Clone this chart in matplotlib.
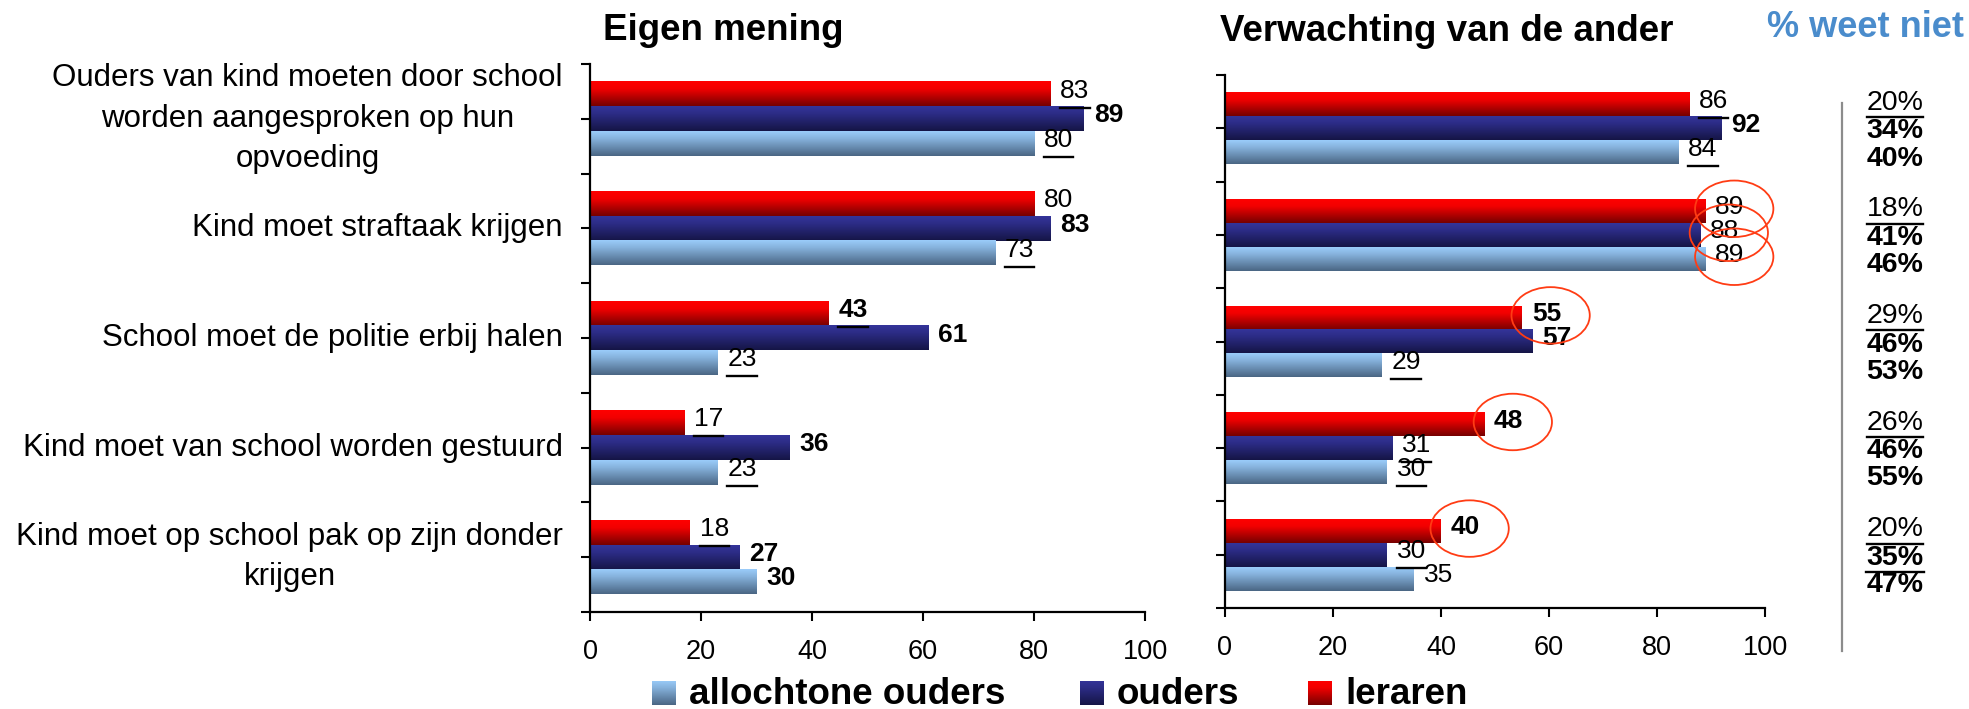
import numpy as np
import matplotlib
matplotlib.use("Agg")
import matplotlib.pyplot as plt
import matplotlib.colors as mcolors
from matplotlib.patches import Ellipse
from matplotlib.lines import Line2D
from matplotlib.transforms import blended_transform_factory

plt.rcParams['font.family'] = ['Liberation Sans', 'DejaVu Sans']

# ---------------- data ----------------
categories = [
    "Ouders van kind moeten door school\nworden aangesproken op hun\nopvoeding",
    "Kind moet straftaak krijgen",
    "School moet de politie erbij halen",
    "Kind moet van school worden gestuurd",
    "Kind moet op school pak op zijn donder\nkrijgen",
]
series = ["allochtone ouders", "ouders", "leraren"]

eigen_allochtoon = [80, 73, 23, 23, 30]
eigen_ouders = [89, 83, 61, 36, 27]
eigen_leraren = [83, 80, 43, 17, 18]

verw_allochtoon = [84, 89, 29, 30, 35]
verw_ouders = [92, 88, 57, 31, 30]
verw_leraren = [86, 89, 55, 48, 40]

# label styles: n = normal, u = underlined, b = bold, bu = bold + underlined
eigen_allochtoon_style = ["u", "u", "u", "u", "b"]
eigen_ouders_style = ["b", "b", "b", "b", "b"]
eigen_leraren_style = ["u", "n", "bu", "u", "u"]
verw_allochtoon_style = ["u", "n", "u", "u", "n"]
verw_ouders_style = ["b", "n", "b", "u", "u"]
verw_leraren_style = ["u", "n", "b", "b", "b"]

# circled labels in "Verwachting van de ander"
verw_allochtoon_circle = [False, True, False, False, False]
verw_ouders_circle = [False, True, False, False, False]
verw_leraren_circle = [False, True, True, True, True]

# % weet niet
weetniet_leraren = [20, 18, 29, 26, 20]
weetniet_ouders = [34, 41, 46, 46, 35]
weetniet_allochtoon = [40, 46, 53, 55, 47]
weetniet_leraren_style = ["u", "u", "u", "u", "u"]
weetniet_ouders_style = ["b", "b", "b", "b", "bu"]
weetniet_allochtoon_style = ["b", "b", "b", "b", "b"]

xticks = [0, 20, 40, 60, 80, 100]

# ---------------- styling ----------------
grad_colors = {
    "allochtone ouders": ("#9accfa", "#86b2dc", "#4a6684"),
    "ouders": ("#34349a", "#2c2c86", "#151546"),
    "leraren": ("#ff0000", "#f20000", "#760000"),
}
offsets = {"leraren": 0.225, "ouders": 0.0, "allochtone ouders": -0.225}
pct_offsets = {"leraren": 0.24, "ouders": -0.03, "allochtone ouders": -0.285}
bar_h = 0.225


def grad_img(top, mid, bottom, n=64):
    c0 = np.array(mcolors.to_rgb(top))
    cm = np.array(mcolors.to_rgb(mid))
    c1 = np.array(mcolors.to_rgb(bottom))
    t = np.linspace(0, 1, n)
    out = np.empty((n, 3))
    for k, tt in enumerate(t):
        if tt < 0.3:
            f = tt / 0.3
            out[k] = c0 * (1 - f) + cm * f
        else:
            f = (tt - 0.3) / 0.7
            out[k] = cm * (1 - f) + c1 * f
    return out[:, None, :]


W, H = 1969, 709
fig = plt.figure(figsize=(W / 100, H / 100), dpi=100)

ax1 = fig.add_axes([590 / W, 1 - 612 / H, 555 / W, 548 / H])
ax2 = fig.add_axes([1225 / W, 1 - 608 / H, 540 / W, 533 / H])

pos = np.arange(len(categories))[::-1].astype(float)

underline_texts = []  # (text, gap in px below bbox bottom)


def draw_panel(ax, data, styles, circles=None):
    for name in ["leraren", "ouders", "allochtone ouders"]:
        vals = data[name]
        bars = ax.barh(pos + offsets[name], vals, height=bar_h, color="none",
                       edgecolor="none", zorder=2)
        img = grad_img(*grad_colors[name])
        for p in bars.patches:
            x0, y0, w, h = p.get_x(), p.get_y(), p.get_width(), p.get_height()
            ax.imshow(img, extent=(x0, x0 + w, y0, y0 + h), origin="upper",
                      aspect="auto", interpolation="bilinear", zorder=2)
        for i, v in enumerate(vals):
            st = styles[name][i]
            t = ax.annotate(str(v), xy=(v, pos[i] + offsets[name]), xytext=(7, 2.5),
                            textcoords="offset points", ha="left", va="center",
                            fontsize=19, fontweight="bold" if "b" in st else "normal",
                            zorder=5, annotation_clip=False)
            if "u" in st:
                underline_texts.append((t, 5.0))
            if circles is not None and circles[name][i]:
                e = Ellipse((v + 5.3, pos[i] + offsets[name] + 0.02), 14.5, 0.53,
                            fill=False, edgecolor="#ff3c14", lw=1.3, zorder=6,
                            clip_on=False)
                ax.add_patch(e)
    ax.set_xlim(0, 100)
    ax.set_ylim(-0.5, 4.5)
    ax.set_xticks(xticks)
    ax.set_xticklabels([str(x) for x in xticks])
    for s in ["top", "right"]:
        ax.spines[s].set_visible(False)
    for s in ["left", "bottom"]:
        ax.spines[s].set_linewidth(1.6)
    ax.tick_params(axis="x", which="major", length=6.5, width=1.5,
                   labelsize=19.5, pad=13, direction="out")
    ax.set_yticks(pos)
    ax.set_yticks(np.arange(-0.5, 5.0, 1.0), minor=True)
    ax.tick_params(axis="y", which="both", length=6.5, width=1.5,
                   direction="out")


draw_panel(ax1,
           {"leraren": eigen_leraren, "ouders": eigen_ouders,
            "allochtone ouders": eigen_allochtoon},
           {"leraren": eigen_leraren_style, "ouders": eigen_ouders_style,
            "allochtone ouders": eigen_allochtoon_style})
draw_panel(ax2,
           {"leraren": verw_leraren, "ouders": verw_ouders,
            "allochtone ouders": verw_allochtoon},
           {"leraren": verw_leraren_style, "ouders": verw_ouders_style,
            "allochtone ouders": verw_allochtoon_style},
           circles={"leraren": verw_leraren_circle, "ouders": verw_ouders_circle,
                    "allochtone ouders": verw_allochtoon_circle})

ax1.set_yticklabels(categories, fontsize=22.5)
ax1.tick_params(axis="y", which="major", pad=13)
for lab in ax1.get_yticklabels():
    lab.set_multialignment("center")
    lab.set_linespacing(1.45)
    lab.set_verticalalignment("center")
ax2.set_yticklabels([])

# titles
fig.text(603 / W, 1 - 40 / H, "Eigen mening", fontsize=26.5, fontweight="bold",
         ha="left", va="baseline")
fig.text(1220 / W, 1 - 41 / H, "Verwachting van de ander", fontsize=26.5,
         fontweight="bold", ha="left", va="baseline")
fig.text(1767 / W, 1 - 37 / H, "% weet niet", fontsize=26, fontweight="bold",
         color="#4a8ccc", ha="left", va="baseline")

# % weet niet column
tr = blended_transform_factory(fig.transFigure, ax2.transData)
for name, vals, sts in [("leraren", weetniet_leraren, weetniet_leraren_style),
                        ("ouders", weetniet_ouders, weetniet_ouders_style),
                        ("allochtone ouders", weetniet_allochtoon, weetniet_allochtoon_style)]:
    for i, v in enumerate(vals):
        t = fig.text(1895 / W, pos[i] + pct_offsets[name], f"{v}%", transform=tr,
                     fontsize=20.5, fontweight="bold" if "b" in sts[i] else "normal",
                     ha="center", va="center")
        if "u" in sts[i]:
            underline_texts.append((t, 1.5))

# gray separator line
fig.add_artist(Line2D([1842 / W, 1842 / W], [1 - 103 / H, 1 - 651 / H],
                      transform=fig.transFigure, color="#8c8c8c", lw=1.6))

# legend
legend_x = {"allochtone ouders": 652, "ouders": 1080, "leraren": 1308}
for name in series:
    x = legend_x[name]
    lax = fig.add_axes([x / W, 1 - 705 / H, 24 / W, 24 / H])
    lax.imshow(grad_img(*grad_colors[name]), aspect="auto", interpolation="bilinear")
    lax.set_axis_off()
    fig.text((x + 37) / W, 1 - 704 / H, name, fontsize=26.5, fontweight="bold",
             ha="left", va="baseline")

# underlines
fig.canvas.draw()
renderer = fig.canvas.get_renderer()
inv = fig.transFigure.inverted()
for t, gap in underline_texts:
    bb = t.get_window_extent(renderer)
    yl = bb.y0 - gap
    (x0, y0), (x1, _) = inv.transform([[bb.x0, yl], [bb.x1, yl]])
    fig.add_artist(Line2D([x0, x1], [y0, y0], transform=fig.transFigure,
                          color="black", lw=1.7))

fig.savefig("out.png", dpi=100)
